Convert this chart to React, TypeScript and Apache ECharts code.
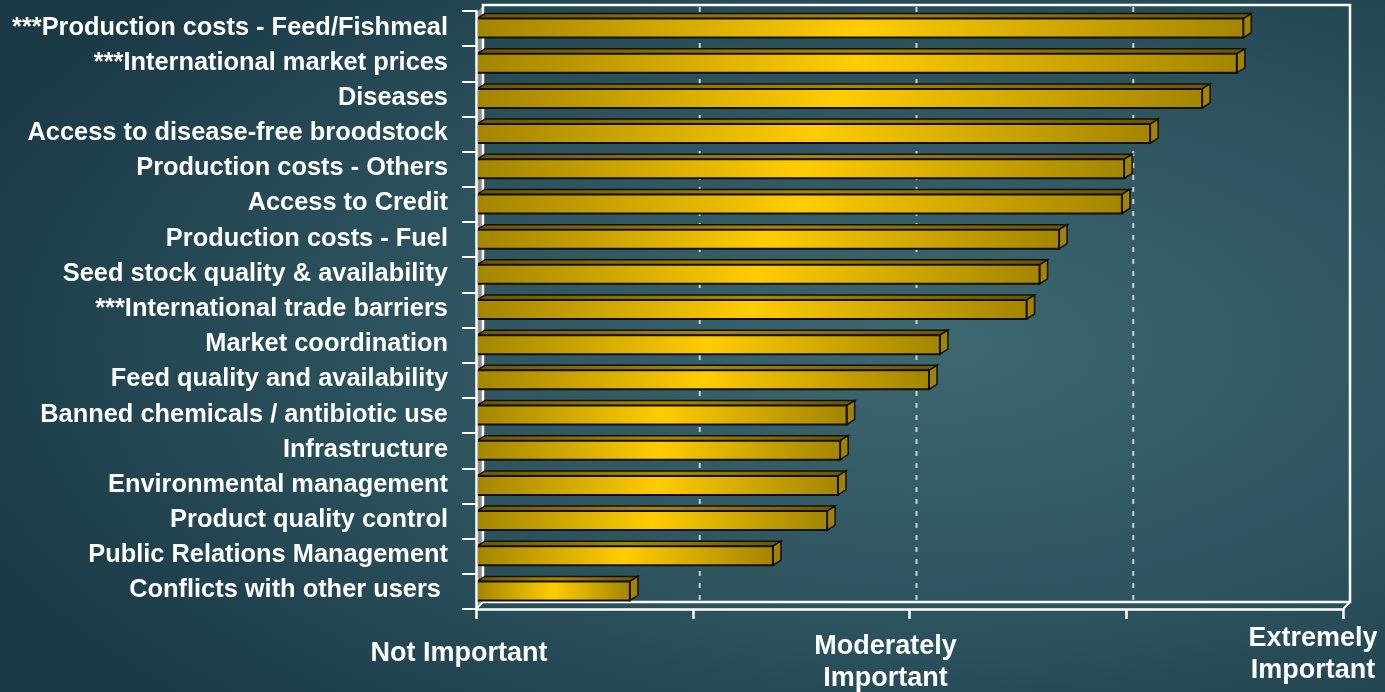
import React, { useEffect, useRef } from "react";
import * as echarts from "echarts";

const categories: string[] = [
  "***Production costs - Feed/Fishmeal",
  "***International market prices",
  "Diseases",
  "Access to disease-free broodstock",
  "Production costs - Others",
  "Access to Credit",
  "Production costs - Fuel",
  "Seed stock quality & availability",
  "***International trade barriers",
  "Market coordination",
  "Feed quality and availability",
  "Banned chemicals / antibiotic use",
  "Infrastructure",
  "Environmental management",
  "Product quality control",
  "Public Relations Management",
  "Conflicts with other users ",
];

const scores: number[] = [
  4.54, 4.51, 4.35, 4.11, 3.99, 3.98, 3.69, 3.6, 3.54, 3.14, 3.09, 2.71, 2.68,
  2.67, 2.62, 2.37, 1.71,
];

const scaleMin = 1;
const scaleMax = 5;
const gridValues: number[] = [2, 3, 4];
const tickLabels: { [k: number]: string[] } = {
  1: ["Not Important"],
  3: ["Moderately", "Important"],
  5: ["Extremely", "Important"],
};

const FONT = "'Liberation Sans', Arial, Helvetica, sans-serif";

export default function App() {
  const ref = useRef<HTMLDivElement>(null);

  useEffect(() => {
    if (!ref.current) return;
    const chart = echarts.init(ref.current, undefined, { renderer: "svg" });
    const DX = 8;
    const DY = 5;
    const WX = 7;
    const WY = 7;

    const xLabelBase = {
      color: "#ffffff",
      fontFamily: FONT,
      fontWeight: "bold",
      fontSize: 27,
      lineHeight: 32,
    };

    const option: any = {
      animation: false,
      backgroundColor: {
        type: "radial",
        x: 0.68,
        y: 0.5,
        r: 0.75,
        colorStops: [
          { offset: 0, color: "#3d6771" },
          { offset: 0.6, color: "#2a505c" },
          { offset: 1, color: "#1a3a46" },
        ],
      },
      grid: {
        left: 476,
        right: 42,
        top: 11,
        bottom: 83,
        containLabel: false,
        outerBoundsMode: "none",
      },
      xAxis: {
        type: "value",
        min: scaleMin,
        max: scaleMax,
        interval: 1,
        z: 5,
        axisLine: { show: true, lineStyle: { color: "#ffffff", width: 2.5 } },
        axisTick: {
          show: true,
          length: 10,
          lineStyle: { color: "#ffffff", width: 2.5 },
        },
        splitLine: { show: false },
        axisLabel: {
          show: true,
          margin: 12,
          interval: 0,
          showMinLabel: true,
          showMaxLabel: true,
          hideOverlap: false,
          formatter: (v: number) => {
            const lines = tickLabels[v];
            if (!lines) return "";
            return lines.map((l) => `{t${v}|${l}}`).join("\n");
          },
          rich: {
            t1: { ...xLabelBase, padding: [30, 34, 0, 0] },
            t3: { ...xLabelBase, padding: [16, 48, 0, 0] },
            t5: { ...xLabelBase, padding: [0, 60, 0, 0] },
          },
        },
      },
      yAxis: {
        type: "category",
        data: categories,
        inverse: true,
        z: 5,
        axisLine: { show: true, lineStyle: { color: "#ffffff", width: 2.5 } },
        axisTick: {
          show: true,
          length: 14,
          lineStyle: { color: "#ffffff", width: 2 },
        },
        splitLine: { show: false },
        axisLabel: {
          margin: 28,
          interval: 0,
          formatter: (v: string) => `{c|${v}}`,
          rich: {
            c: {
              color: "#ffffff",
              fontFamily: FONT,
              fontWeight: "bold",
              fontSize: 25.4,
              lineHeight: 30,
              padding: [0, 0, 6, 0],
            },
          },
        },
      },
      series: [
        {
          type: "custom",
          z: 1,
          silent: true,
          clip: false,
          data: [[scaleMin, 0]],
          encode: { x: 0, y: 1 },
          renderItem: (params: any, api: any) => {
            const cs = params.coordSys;
            const x0 = cs.x;
            const y0 = cs.y;
            const x1 = cs.x + cs.width;
            const y1 = cs.y + cs.height;
            const children: any[] = [];
            children.push({
              type: "polygon",
              shape: {
                points: [
                  [x0, y0 + 2],
                  [x0 + WX, y0 - WY + 2],
                  [x0 + WX, y1 - WY],
                  [x0, y1],
                ],
              },
              style: { fill: "#8c8c8c", stroke: null },
            });
            children.push({
              type: "polyline",
              shape: {
                points: [
                  [x0 + WX, y1 - WY],
                  [x0 + WX, y0 - WY + 1],
                  [x1 + WX, y0 - WY + 1],
                  [x1 + WX, y1 - WY],
                  [x0 + WX, y1 - WY],
                ],
              },
              style: { fill: null, stroke: "#ffffff", lineWidth: 2.5 },
            });
            children.push({
              type: "line",
              shape: { x1: x0, y1: y1, x2: x0 + WX, y2: y1 - WY },
              style: { stroke: "#ffffff", lineWidth: 2 },
            });
            children.push({
              type: "line",
              shape: { x1: x1, y1: y1, x2: x1 + WX, y2: y1 - WY },
              style: { stroke: "#ffffff", lineWidth: 2 },
            });
            gridValues.forEach((g) => {
              const gx = api.coord([g, 0])[0] + WX;
              children.push({
                type: "line",
                shape: { x1: gx, y1: y0 - WY + 3, x2: gx, y2: y1 - WY - 1 },
                style: {
                  stroke: "#c9cfd1",
                  lineWidth: 2,
                  lineDash: [5, 7],
                },
              });
            });
            return { type: "group", children };
          },
        },
        {
          type: "custom",
          z: 2,
          clip: false,
          data: scores.map((v, i) => [v, i]),
          encode: { x: 0, y: 1 },
          renderItem: (params: any, api: any) => {
            const v = api.value(0);
            const idx = api.value(1);
            const start = api.coord([scaleMin, idx]);
            const end = api.coord([v, idx]);
            const band = api.size([0, 1])[1];
            const h = band * 0.54;
            const yc = end[1] - 0.5;
            const yt = yc - h / 2;
            const yb = yc + h / 2;
            const xs = start[0] + 1;
            const xe = end[0];
            const stroke = "#141000";
            return {
              type: "group",
              children: [
                {
                  type: "polygon",
                  shape: {
                    points: [
                      [xs, yt],
                      [xs + DX, yt - DY],
                      [xe + DX, yt - DY],
                      [xe, yt],
                    ],
                  },
                  style: {
                    fill: {
                      type: "linear",
                      x: 0,
                      y: 0,
                      x2: 1,
                      y2: 0,
                      colorStops: [
                        { offset: 0, color: "#6a5700" },
                        { offset: 0.5, color: "#a88700" },
                        { offset: 1, color: "#6a5700" },
                      ],
                    },
                    stroke,
                    lineWidth: 1.5,
                  },
                },
                {
                  type: "polygon",
                  shape: {
                    points: [
                      [xe, yt],
                      [xe + DX, yt - DY],
                      [xe + DX, yb - DY],
                      [xe, yb],
                    ],
                  },
                  style: { fill: "#a08300", stroke, lineWidth: 1.5 },
                },
                {
                  type: "rect",
                  shape: { x: xs, y: yt, width: xe - xs, height: yb - yt },
                  style: {
                    fill: {
                      type: "linear",
                      x: 0,
                      y: 0,
                      x2: 1,
                      y2: 0,
                      colorStops: [
                        { offset: 0, color: "#a38500" },
                        { offset: 0.5, color: "#ffcc00" },
                        { offset: 1, color: "#a38500" },
                      ],
                    },
                    stroke,
                    lineWidth: 2,
                  },
                },
              ],
            };
          },
        },
      ],
    };

    chart.setOption(option);
    return () => chart.dispose();
  }, []);

  return (
    <div
      ref={ref}
      style={{
        position: "fixed",
        left: 0,
        top: 0,
        width: 1385,
        height: 692,
      }}
    />
  );
}
